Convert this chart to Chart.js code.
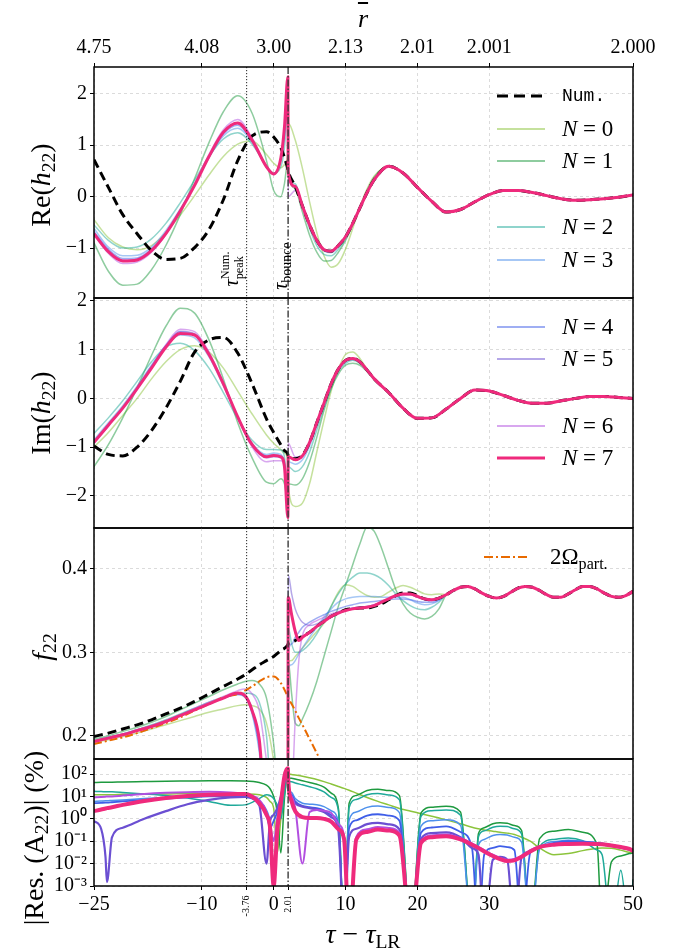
<!DOCTYPE html>
<html>
<head>
<meta charset="utf-8">
<script src="https://cdn.jsdelivr.net/npm/chart.js@4.4.0/dist/chart.umd.min.js"></script>
<style>
html, body { margin: 0; padding: 0; background: #fff; }
#wrap { position: relative; width: 678px; height: 950px; overflow: hidden; font-family: 'Liberation Serif', 'Times New Roman', serif; color: #000; }
#wrap canvas { position: absolute; left: 0; }
.t { position: absolute; white-space: nowrap; line-height: 1; transform: translate(-50%, -50%); }
.r { transform: translate(-50%, -50%) rotate(-90deg); }
sub { font-size: 0.7em; vertical-align: -0.28em; line-height: 0; }
.ss { display: inline-block; vertical-align: middle; font-size: 0.62em; line-height: 1.1; text-align: left; }
.leg { position: absolute; }
.leg svg { position: absolute; }
.leg span { position: absolute; white-space: nowrap; transform: translateY(-50%); font-size: 23px; }
</style>
</head>
<body>
<div id="wrap">
  <canvas id="cRe" width="678" height="318" style="top:0px"></canvas>
  <canvas id="cIm" width="678" height="270" style="top:278px"></canvas>
  <canvas id="cF" width="678" height="271" style="top:508px"></canvas>
  <canvas id="cRes" width="678" height="211" style="top:739px"></canvas>

  <div class="t" style="left:363px;top:19px;font-size:26px"><i style="text-decoration:overline">r</i></div>
  <div class="t r" style="left:41px;top:185px;font-size:28px">Re(<i>h</i><sub>22</sub>)</div>
  <div class="t r" style="left:41px;top:413px;font-size:28px">Im(<i>h</i><sub>22</sub>)</div>
  <div class="t r" style="left:42px;top:647px;font-size:28px"><i>f</i><sub>22</sub></div>
  <div class="t r" style="left:34px;top:838px;font-size:28px">|Res. (A<sub>22</sub>)| (%)</div>
  <div class="t" style="left:363px;top:934px;font-size:28px"><i>τ</i> − <i>τ</i><sub>LR</sub></div>
  <div class="t r" style="left:233px;top:269px;font-size:20px"><i>τ</i><span class="ss">Num.<br>peak</span></div>
  <div class="t r" style="left:280px;top:266px;font-size:20px"><i>τ</i><sub>bounce</sub></div>
  <div class="t r" style="left:246px;top:906px;font-size:10px">-3.76</div>
  <div class="t r" style="left:288px;top:904px;font-size:10px">2.01</div>
  <div id="legend"></div>
</div>
<script>
const tauPeak = -3.76;
const tauBounce = 2.01;

// top axis: r-bar labels at these tau positions
const topTickTau = [-25, -10, 0, 10, 20, 30, 50];
const topTickLabels = ['4.75', '4.08', '3.00', '2.13', '2.01', '2.001', '2.000'];
const bottomTickTau = [-25, -10, -3.76, 0, 2.01, 10, 20, 30, 50];

// ---- Re / Im panels: tau grid (first 30 points per series, then shared ringdown tail)
const tauH = [-25,-23,-21,-19,-17,-15,-13,-11,-9,-7,-5,-3,-1,0,1,1.5,1.98,2.02,3,4,5,6,7,8,9,10,11,12,13,14,16,18,20,22,24,26,28,30,32,34,36,38,40,42,44,46,48,50];

const reTail = [0.59,0.46,0.18,-0.09,-0.3,-0.25,-0.1,0.04,0.12,0.12,0.08,0.02,-0.04,-0.07,-0.06,-0.04,-0.01,0.03];
const reNum = [0.72,0.18,-0.35,-0.72,-1.05,-1.22,-1.2,-0.99,-0.64,-0.06,0.7,1.18,1.26,1.16,0.95,0.76,0.53, 0.5,0.2,-0.18,-0.55,-0.85,-1.03,-1.06,-0.95,-0.78,-0.52,-0.22,0.08,0.33];
const reN0 = [-0.45,-0.8,-0.98,-1.03,-0.95,-0.7,-0.36,0.02,0.42,0.78,1.02,1.08,0.82,0.65,0.56,0.62,0.9, 1.43,1.1,0.55,-0.1,-0.7,-1.15,-1.37,-1.3,-1.02,-0.62,-0.2,0.15,0.4];
const reN1 = [-0.9,-1.45,-1.72,-1.7,-1.42,-0.95,-0.35,0.35,1.05,1.65,1.96,1.62,0.7,0.12,0.0,0.25,0.7, 0.5,0.15,-0.3,-0.75,-1.08,-1.25,-1.24,-1.08,-0.85,-0.55,-0.2,0.12,0.38];
const reN2 = [-0.55,-0.85,-1.0,-0.98,-0.82,-0.52,-0.12,0.32,0.78,1.12,1.24,1.02,0.6,0.46,0.58,0.95,1.7, 0.6,0.25,-0.2,-0.62,-0.95,-1.12,-1.15,-1.02,-0.82,-0.54,-0.22,0.1,0.35];
const reN3 = [-0.62,-0.98,-1.15,-1.14,-0.98,-0.66,-0.24,0.24,0.76,1.18,1.33,1.06,0.58,0.45,0.72,1.2,2.1, 0.5,0.2,-0.2,-0.58,-0.88,-1.06,-1.09,-0.97,-0.79,-0.53,-0.22,0.08,0.33];
const reN4 = [-0.68,-1.02,-1.2,-1.19,-1.02,-0.7,-0.26,0.23,0.77,1.22,1.39,1.08,0.58,0.44,0.74,1.26,2.2, 0.48,0.2,-0.18,-0.55,-0.85,-1.03,-1.06,-0.95,-0.78,-0.52,-0.22,0.08,0.33];
const reN5 = [-0.7,-1.05,-1.23,-1.21,-1.04,-0.71,-0.27,0.23,0.78,1.24,1.42,1.1,0.58,0.44,0.75,1.3,2.25, 0.48,0.2,-0.18,-0.55,-0.85,-1.03,-1.06,-0.95,-0.78,-0.52,-0.22,0.08,0.33];
const reN6 = [-0.74,-1.1,-1.3,-1.27,-1.08,-0.73,-0.27,0.25,0.82,1.3,1.5,1.14,0.58,0.43,0.76,1.33,2.3, 0.0,0.12,-0.16,-0.55,-0.85,-1.03,-1.06,-0.95,-0.78,-0.52,-0.22,0.08,0.33];
const reN7 = [-0.72,-1.07,-1.25,-1.23,-1.05,-0.72,-0.28,0.22,0.78,1.25,1.43,1.1,0.58,0.44,0.75,1.35,2.33, 0.48,0.2,-0.18,-0.55,-0.85,-1.03,-1.06,-0.95,-0.78,-0.52,-0.22,0.08,0.33];

const imTail = [0.12,-0.2,-0.41,-0.4,-0.22,0.0,0.17,0.15,0.06,-0.04,-0.1,-0.1,-0.05,0.0,0.04,0.04,0.02,0.0];
const imNum = [-0.98,-1.15,-1.18,-1.0,-0.66,-0.2,0.35,0.95,1.2,1.25,0.93,0.3,-0.42,-0.7,-0.95,-1.07,-1.15, -1.18,-1.24,-1.17,-0.9,-0.5,-0.1,0.3,0.6,0.78,0.82,0.75,0.58,0.4];
const imN0 = [-1.0,-0.7,-0.35,0.0,0.4,0.75,1.0,1.08,0.95,0.62,0.15,-0.32,-0.75,-0.92,-1.05,-1.12,-1.3, -1.8,-2.22,-2.15,-1.75,-1.1,-0.45,0.15,0.6,0.9,0.95,0.82,0.6,0.4];
const imN1 = [-1.4,-0.95,-0.4,0.22,0.88,1.48,1.85,1.75,1.2,0.4,-0.5,-1.22,-1.72,-1.75,-1.65,-1.75,-2.1, -1.75,-1.78,-1.65,-1.3,-0.8,-0.25,0.2,0.5,0.68,0.72,0.68,0.55,0.38];
const imN2 = [-0.72,-0.4,-0.05,0.35,0.75,1.05,1.13,0.98,0.62,0.12,-0.42,-0.86,-1.05,-1.05,-1.06,-1.2,-1.9, -1.4,-1.5,-1.4,-1.1,-0.65,-0.2,0.22,0.55,0.72,0.78,0.72,0.57,0.4];
const imN3 = [-0.85,-0.5,-0.15,0.25,0.68,1.08,1.3,1.24,0.85,0.26,-0.38,-0.92,-1.15,-1.12,-1.15,-1.35,-2.2, -1.3,-1.35,-1.26,-0.98,-0.56,-0.14,0.27,0.58,0.76,0.8,0.74,0.58,0.4];
const imN4 = [-0.88,-0.53,-0.18,0.22,0.66,1.08,1.36,1.3,0.9,0.3,-0.38,-0.95,-1.18,-1.15,-1.18,-1.38,-2.35, -1.2,-1.26,-1.18,-0.9,-0.5,-0.1,0.3,0.6,0.78,0.82,0.75,0.58,0.4];
const imN5 = [-0.9,-0.55,-0.2,0.2,0.64,1.08,1.38,1.33,0.92,0.31,-0.39,-0.97,-1.22,-1.2,-1.22,-1.4,-2.4, -1.2,-1.26,-1.18,-0.9,-0.5,-0.1,0.3,0.6,0.78,0.82,0.75,0.58,0.4];
const imN6 = [-0.92,-0.56,-0.2,0.2,0.64,1.1,1.42,1.37,0.95,0.32,-0.4,-1.0,-1.3,-1.28,-1.28,-1.42,-2.4, -0.92,-1.2,-1.18,-0.9,-0.5,-0.1,0.3,0.6,0.78,0.82,0.75,0.58,0.4];
const imN7 = [-0.9,-0.55,-0.2,0.2,0.62,1.05,1.33,1.3,0.9,0.3,-0.38,-0.95,-1.2,-1.17,-1.2,-1.4,-2.45, -1.2,-1.26,-1.18,-0.9,-0.5,-0.1,0.3,0.6,0.78,0.82,0.75,0.58,0.4];

// ---- f22 panel: tau grid (first 42 points per series, then shared tail from tau = 24)
const tauF = [-25,-23,-21,-19,-17,-15,-13,-11,-9,-7,-5,-4,-3,-2,-1,0,1,1.98,2.02,2.5,3,3.5,4,5,6,7,8,9,10,11,12,13,14,15,16,17,18,19,20,21,22,23,24,25,26,27,28,29,30,31,32,33,34,35,36,37,38,39,40,41,42,43,44,45,46,47,48,49,50];
const fTail = [0.369,0.374,0.378,0.379,0.376,0.371,0.367,0.365,0.367,0.372,0.377,0.379,0.378,0.374,0.369,0.366,0.366,0.37,0.375,0.379,0.379,0.376,0.371,0.367,0.366,0.368,0.373];
const fNum = [0.199,0.203,0.208,0.213,0.219,0.226,0.233,0.241,0.25,0.259,0.268,0.273,0.279,0.285,0.29,0.295,0.302,0.309,0.31,0.312,0.314,0.317,0.319,0.324,0.331,0.337,0.343,0.347,0.351,0.352,0.353,0.353,0.355,0.358,0.363,0.368,0.371,0.371,0.368,0.364,0.363,0.365];
const fN0 = [0.192,0.195,0.199,0.203,0.208,0.213,0.218,0.223,0.228,0.232,0.236,0.237,0.236,0.232,0.215,0.17,0.1,0.1,0.288,0.29,0.295,0.3,0.305,0.315,0.325,0.335,0.355,0.372,0.381,0.379,0.373,0.368,0.366,0.367,0.372,0.377,0.38,0.378,0.374,0.37,0.369,0.37];
const fN1 = [0.196,0.2,0.205,0.21,0.216,0.223,0.231,0.239,0.247,0.255,0.262,0.265,0.266,0.262,0.245,0.19,0.1,0.1,0.29,0.25,0.215,0.212,0.22,0.24,0.265,0.295,0.325,0.355,0.38,0.405,0.43,0.45,0.445,0.425,0.4,0.375,0.358,0.347,0.342,0.34,0.343,0.352];
const fN2 = [0.194,0.198,0.202,0.207,0.213,0.219,0.226,0.233,0.24,0.246,0.25,0.251,0.25,0.24,0.2,0.1,0.1,0.1,0.33,0.31,0.3,0.3,0.302,0.31,0.322,0.338,0.355,0.37,0.382,0.39,0.395,0.395,0.393,0.388,0.38,0.37,0.362,0.356,0.352,0.351,0.354,0.36];
const fN3 = [0.194,0.198,0.202,0.207,0.212,0.218,0.225,0.232,0.239,0.245,0.249,0.246,0.226,0.18,0.1,0.1,0.1,0.1,0.28,0.285,0.29,0.298,0.305,0.318,0.33,0.342,0.352,0.36,0.364,0.366,0.367,0.367,0.367,0.366,0.366,0.366,0.366,0.363,0.359,0.357,0.358,0.362];
const fN4 = [0.193,0.197,0.201,0.206,0.211,0.217,0.224,0.231,0.238,0.245,0.25,0.247,0.228,0.185,0.1,0.1,0.1,0.1,0.3,0.31,0.318,0.324,0.33,0.336,0.341,0.345,0.349,0.352,0.355,0.357,0.359,0.36,0.361,0.362,0.363,0.364,0.364,0.363,0.361,0.36,0.36,0.363];
const fN5 = [0.193,0.197,0.201,0.206,0.211,0.217,0.224,0.231,0.238,0.245,0.25,0.248,0.232,0.19,0.1,0.1,0.1,0.1,0.393,0.37,0.352,0.342,0.336,0.332,0.334,0.339,0.344,0.348,0.351,0.353,0.354,0.355,0.357,0.36,0.364,0.367,0.369,0.369,0.366,0.363,0.362,0.365];
const fN6 = [0.194,0.198,0.202,0.207,0.212,0.218,0.225,0.233,0.24,0.247,0.254,0.256,0.25,0.23,0.17,0.1,0.1,0.1,0.1,0.12,0.22,0.29,0.32,0.333,0.338,0.342,0.346,0.349,0.351,0.353,0.354,0.355,0.357,0.36,0.364,0.367,0.369,0.369,0.366,0.363,0.362,0.365];
const fN7 = [0.193,0.197,0.201,0.206,0.211,0.217,0.224,0.231,0.238,0.245,0.251,0.248,0.23,0.195,0.1,0.1,0.1,0.1,0.366,0.345,0.325,0.314,0.318,0.324,0.331,0.337,0.343,0.347,0.35,0.352,0.353,0.354,0.356,0.36,0.364,0.368,0.37,0.37,0.367,0.364,0.363,0.365];
const fOmega = [0.19,0.194,0.198,0.203,0.209,0.215,0.222,0.23,0.238,0.246,0.25,0.254,0.259,0.265,0.27,0.271,0.263,0.246,0.245,0.238,0.23,0.221,0.213,0.196,0.179,0.161,0.143];

// ---- residual panel (percent, log axis)
const resTau = [-25,-24,-23.4,-23.2,-22.5,-21,-18,-15,-12,-9,-6,-4,-2,-1,-0.5,0,0.5,1,1.5,1.98,2.02,2.5,3,4,5,6,7,8,9,9.8,10.5,11.5,13,14.5,16,17.5,19.1,20.5,22,24,26,27.6,28.5,29.3,30.5,31.5,32.5,33.5,34.5,35.7,37,39,41,43,45,45.7,47,48.3,49.5,50];
const resN0 = [12,12,12,12,12, 12.5,13,13,13.5,13.5, 13.5,13,12,9,6, 3,0.03,1,20,100, 100,95,90,80,68, 57,46,36,28,23, 19,14,9,6,4.2, 2.9,2.2,1.7,1.3,0.9, 0.6,0.42,0.36,0.32,0.28, 0.25,0.23,0.2,0.15,0.1, 0.05,0.025,0.028,0.038,0.048, 0.05,0.048,0.04,0.032,0.03];
const resN1 = [42,43,43,43,43.5, 44,46,48,49,50, 50,49,42,32,22, 10,2,0.03,8,90, 70,65,60,50,42, 35,26,14,3,1e-5, 5,11,18.5,21,18.3, 10.9,1e-5,1.85,3.3,3.6, 2.0,1e-5,0.22,0.4,0.6, 0.66,0.63,0.5,0.3,1e-5, 0.13,0.28,0.33,0.25,0.07, 1e-5,0.012,0.022,0.028,0.03];
const resN2 = [17,16.5,16.3,16.2,16, 15,13,11,8.5,6, 4,4.2,8,12,11, 8,4,1,12,100, 50,45,40,33,27, 22,16,9,2.5,1e-5, 3.2,7.3,11.9,13.5,11.7, 7,1e-5,1.3,2.3,2.5, 1.45,1e-5,0.16,0.29,0.42, 0.47,0.45,0.36,0.21,1e-5, 0.056,0.12,0.14,0.105,0.04, 0.025,1e-5,0.005,1e-5,0.002];
const resN3 = [6,6.2,6.4,6.4,6.6, 7,8,9,10,11, 11,10.5,6,2.5,0.6, 0.004,1,5,40,140, 35,15,8,5,4.5, 4.3,3.5,2.3,0.7,1e-5, 0.87,2,3.25,3.7,3.2, 1.9,1e-5,0.47,0.82,0.9, 0.52,1e-5,0.068,0.12,0.18, 0.2,0.19,0.15,0.09,1e-5, 0.044,0.095,0.11,0.1,0.085, 0.08,0.065,0.052,0.043,0.04];
const resN4 = [5,5.2,5.3,5.3,5.5, 6,7,8,9,10, 10,9.5,5,1.5,0.4, 0.8,2,6,45,150, 30,12,6,3.8,3.3, 3,2.4,1.5,0.5,1e-5, 0.38,0.86,1.4,1.6,1.4, 0.83,1e-5,0.24,0.41,0.46, 0.26,0.05,1e-5,0.025,0.05, 0.06,0.055,0.04,1e-5,0.03, 0.055,0.085,0.1,0.095,0.085, 0.08,0.068,0.055,0.045,0.042];
const resN5 = [0.8,0.35,0.02,0.0015,0.15, 0.4,1,2.2,4.5,7, 9,9.5,4,0.01,0.8, 1.5,3,10,50,130, 25,9,5,3.5,3, 2.6,2,1.2,0.3,1e-5, 0.155,0.36,0.58,0.66,0.57, 0.34,1e-5,0.13,0.23,0.25, 0.15,0.05,0.025,1e-5,0.015, 0.02,0.015,1e-5,0.02,0.035, 0.055,0.072,0.08,0.078,0.072, 0.07,0.062,0.052,0.043,0.04];
const resN6 = [9,9.5,9.8,9.9,10, 11,13,14.5,15.5,16, 15,13,7,2,0.6, 0.1,1,8,60,150, 40,10,3,0.01,2, 2.5,2.3,1.8,0.6,0.15, 1e-5,0.155,0.34,0.43,0.39, 0.24,1e-5,0.1,0.18,0.2, 0.14,0.08,0.055,0.04,0.025, 0.018,0.015,0.016,0.022,0.04, 0.06,0.075,0.08,0.078,0.072, 0.07,0.062,0.052,0.042,0.04];
const resN7 = [2.2,2.6,2.9,3,3.3, 4.2,6.3,8.5,10.5,12, 12.5,13,5,1.5,0.4, 0.001,0.3,5,80,180, 60,6,2.2,1.2,1.1, 1.1,1,0.75,0.35,0.12, 1e-5,0.12,0.26,0.33,0.3, 0.18,1e-5,0.085,0.15,0.165, 0.12,0.07,0.05,0.035,0.022, 0.016,0.013,0.014,0.02,0.035, 0.055,0.07,0.075,0.077,0.075, 0.073,0.065,0.055,0.045,0.037];

const nColors = ['#8cc43c', '#1e9a3f', '#1fa99a', '#4d90ec', '#3f5ee8', '#6b4fd2', '#b24fe0', '#ef2a7c'];
const omegaColor = '#e86a00';
const SERIF = "'Liberation Serif', 'Times New Roman', serif";
const GRID = '#d2d2d2';

function fade(hex, a) {
    const n = parseInt(hex.slice(1), 16);
    return `rgba(${n >> 16}, ${(n >> 8) & 255}, ${n & 255}, ${a})`;
}

function pts(xs, ys) {
    return ys.map((y, i) => ({x: xs[i], y: y}));
}

function line(data, color, width, dash) {
    return {
        data: data,
        borderColor: color,
        borderWidth: width,
        borderDash: dash || [],
        pointRadius: 0,
        fill: false,
        cubicInterpolationMode: 'monotone',
        borderJoinStyle: 'round'
    };
}

const sup = {'-': '\u207B', '0': '\u2070', '1': '\u00B9', '2': '\u00B2', '3': '\u00B3'};
const fmtPow = v => '10' + String(Math.round(Math.log10(v))).split('').map(ch => sup[ch]).join('');
const fmtInt = v => v < 0 ? '\u2212' + Math.abs(v) : String(v);
const fmtDec = v => v.toFixed(1);

// frame + reference verticals
const panelDeco = {
    id: 'panelDeco',
    afterDatasetsDraw(chart) {
        const {ctx, chartArea: a} = chart;
        const x = chart.scales.x;
        ctx.save();
        ctx.beginPath();
        ctx.rect(a.left, a.top, a.right - a.left, a.bottom - a.top);
        ctx.clip();
        let px = x.getPixelForValue(tauPeak);
        ctx.strokeStyle = '#222';
        ctx.lineWidth = 1;
        ctx.setLineDash([1.2, 1.8]);
        ctx.beginPath(); ctx.moveTo(px, a.top); ctx.lineTo(px, a.bottom); ctx.stroke();
        px = x.getPixelForValue(tauBounce);
        ctx.strokeStyle = '#3a3a3a';
        ctx.lineWidth = 1.4;
        ctx.setLineDash([7, 2, 1.5, 2]);
        ctx.beginPath(); ctx.moveTo(px, a.top); ctx.lineTo(px, a.bottom); ctx.stroke();
        ctx.restore();
        ctx.save();
        ctx.strokeStyle = '#000';
        ctx.lineWidth = 1.5;
        ctx.strokeRect(a.left, a.top, a.right - a.left, a.bottom - a.top);
        ctx.restore();
    }
};

function axisX(kind, ticks, labelFn, height) {
    return {
        type: 'linear',
        position: kind === 'top' ? 'top' : 'bottom',
        min: -25, max: 50,
        afterBuildTicks: s => { s.ticks = ticks.map(v => ({value: v})); },
        afterFit: s => { s.height = height; },
        border: {display: false, dash: [3, 3]},
        grid: {
            color: c => (c.tick && (c.tick.value === tauPeak || c.tick.value === tauBounce)) ? 'rgba(0,0,0,0)' : GRID,
            lineWidth: 0.8,
            drawTicks: kind !== 'none',
            tickLength: 4, tickColor: '#000', tickWidth: 1, tickBorderDash: []
        },
        ticks: {
            display: kind !== 'none', autoSkip: false, maxRotation: 0, minRotation: 0, padding: 3,
            color: '#000', font: {family: SERIF, size: 20}, callback: labelFn
        }
    };
}

function axisY(type, min, max, ticks, fmt) {
    return {
        type: type, min: min, max: max,
        afterBuildTicks: s => { s.ticks = ticks.map(v => ({value: v})); },
        afterFit: s => { s.width = 94; },
        border: {display: false, dash: [3, 3]},
        grid: {color: GRID, lineWidth: 0.8, tickLength: 4, tickColor: '#000', tickWidth: 1, tickBorderDash: []},
        ticks: {autoSkip: false, padding: 3, color: '#000', font: {family: SERIF, size: 20}, callback: v => fmt(v)}
    };
}

function makeChart(id, datasets, xAxis, yAxis, padTop, padBottom) {
    return new Chart(document.getElementById(id).getContext('2d'), {
        type: 'line',
        data: {datasets: datasets},
        options: {
            responsive: false,
            animation: false,
            events: [],
            layout: {padding: {left: 0, right: 45, top: padTop, bottom: padBottom}},
            plugins: {legend: {display: false}, tooltip: {enabled: false}},
            scales: {x: xAxis, y: yAxis}
        },
        plugins: [panelDeco]
    });
}

// datasets for Re / Im / f panels: N=7 on top, then Num., then N=6..0
function wavePanel(xs, num, series, tail, extra) {
    const full = arr => tail ? arr.concat(tail) : arr;
    const sets = [line(pts(xs, full(series[7])), nColors[7], 3)];
    if (extra) sets.push(extra);
    sets.push(line(pts(xs, full(num)), '#000', 3, [9, 5]));
    for (let k = 6; k >= 0; k--) {
        sets.push(line(pts(xs, full(series[k])), fade(nColors[k], 0.5), 1.5));
    }
    return sets;
}

const reSeries = [reN0, reN1, reN2, reN3, reN4, reN5, reN6, reN7];
const imSeries = [imN0, imN1, imN2, imN3, imN4, imN5, imN6, imN7];
const fSeries = [fN0, fN1, fN2, fN3, fN4, fN5, fN6, fN7];
const resSeries = [resN0, resN1, resN2, resN3, resN4, resN5, resN6, resN7];

makeChart('cRe', wavePanel(tauH, reNum, reSeries, reTail),
    axisX('top', topTickTau, (v, i) => topTickLabels[i], 67),
    axisY('linear', -1.97, 2.52, [-1, 0, 1, 2], fmtInt), 0, 20);

makeChart('cIm', wavePanel(tauH, imNum, imSeries, imTail),
    axisX('none', topTickTau, () => '', 0),
    axisY('linear', -2.66, 2.06, [-2, -1, 0, 1, 2], fmtInt), 20, 20);

makeChart('cF', wavePanel(tauF, fNum, fSeries, fTail, line(pts(tauF, fOmega), omegaColor, 2, [8, 3, 2, 3])),
    axisX('none', topTickTau, () => '', 0),
    axisY('linear', 0.172, 0.449, [0.2, 0.3, 0.4], fmtDec), 20, 20);

const resWidths = [1.5, 1.5, 1.5, 1.5, 1.8, 2.2, 2.0, 4];
const resSets = [];
for (let k = 7; k >= 0; k--) {
    resSets.push(line(pts(resTau, resSeries[k]), nColors[k], resWidths[k]));
}
makeChart('cRes', resSets,
    axisX('bottom', bottomTickTau, v => (v === tauPeak || v === tauBounce) ? '' : fmtInt(v), 64),
    axisY('logarithmic', 0.001, 470, [0.001, 0.01, 0.1, 1, 10, 100], fmtPow), 20, 0);

// legend, placed inside the panels
const legendLabels = ['<span style="font-family:\'Liberation Mono\',monospace;font-size:18px">Num.</span>',
    '<i>N</i> = 0', '<i>N</i> = 1', '<i>N</i> = 2', '<i>N</i> = 3',
    '<i>N</i> = 4', '<i>N</i> = 5', '<i>N</i> = 6', '<i>N</i> = 7',
    '2Ω<sub>part.</sub>'];
const legendStyle = [['#000', 3, '11,6']]
    .concat(nColors.map((c, k) => k === 7 ? [c, 3, ''] : [fade(c, 0.5), 2, '']))
    .concat([[omegaColor, 2, '9,3,2,3']]);
const legendRowY = [96, 129, 161, 227, 260, 327, 359, 426, 458, 557];

let html = '';
legendLabels.forEach((lab, i) => {
    const [col, w, dash] = legendStyle[i];
    const x1 = i === 9 ? 484 : 497;
    const len = i === 9 ? 46 : 48;
    const tx = i === 9 ? 550 : 562;
    const y = legendRowY[i];
    html += `<div class="leg" style="left:0;top:0">` +
        `<svg width="${len}" height="10" style="left:${x1}px;top:${y - 5}px"><line x1="0" y1="5" x2="${len}" y2="5" stroke="${col}" stroke-width="${w}" stroke-dasharray="${dash}"/></svg>` +
        `<span style="left:${tx}px;top:${y}px">${lab}</span></div>`;
});
document.getElementById('legend').innerHTML = html;
</script>
</body>
</html>
